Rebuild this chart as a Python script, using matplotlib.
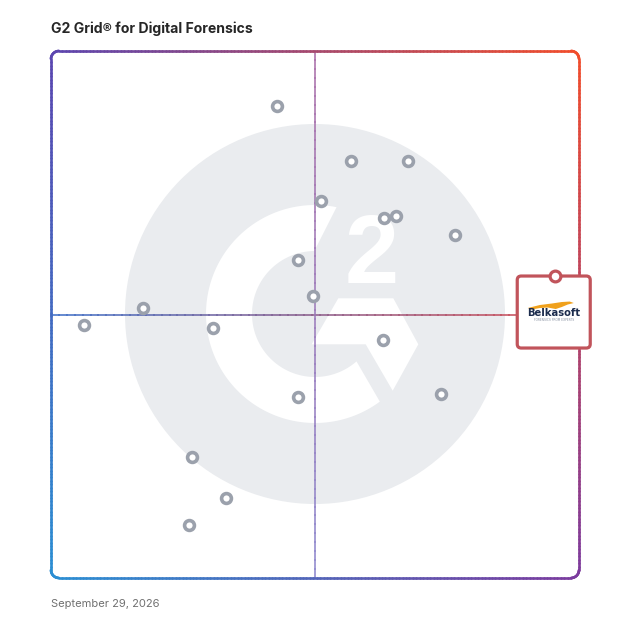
import numpy as np
import matplotlib
matplotlib.use("Agg")
import matplotlib.pyplot as plt
from matplotlib.collections import LineCollection
from matplotlib.patches import Polygon, FancyBboxPatch, Ellipse
from matplotlib.transforms import Affine2D
import matplotlib.colors as mcolors

# ---------------- data ----------------
title = "G2 Grid\u00ae for Digital Forensics"
date_label = "September 29, 2026"

# x: satisfaction, y: market presence (0-100 grid scale)
satisfaction = [42.8, 56.8, 67.6, 51.1, 63.1, 65.3, 76.5, 46.8, 49.6,
                17.4, 30.7, 62.9, 46.8, 73.9, 26.7, 33.1, 6.3, 26.1]
market_presence = [89.6, 79.1, 79.1, 71.5, 68.3, 68.7, 65.1, 60.3, 53.5,
                   51.2, 47.4, 45.2, 34.3, 34.9, 23.0, 15.2, 48.0, 10.1]
highlight_name = "Belkasoft"
highlight_sub = "FORENSICS FROM EXPERTS"
highlight_x = [95.5]
highlight_y = [57.3]

# ---------------- figure ----------------
W = 628
fig = plt.figure(figsize=(6.28, 6.28), dpi=100)
fig.patch.set_facecolor("white")
L, R, T, B = 51, 579, 51, 578
ax = fig.add_axes([L / W, 1 - B / W, (R - L) / W, (B - T) / W])
ax.set_xlim(0, 100)
ax.set_ylim(0, 100)
ax.axis("off")

# pixel transform (origin top-left, y down)
pixT = Affine2D().scale(1 / W, -1 / W).translate(0, 1) + fig.transFigure

# ---------------- background G2 logo ----------------
cx, cy = 315, 314
ax.add_patch(Ellipse((cx, cy), 380, 380, transform=pixT, facecolor="#eaecef",
                     edgecolor="none", zorder=0))

def arcpts(r, a0, a1, n=120):
    t = np.radians(np.linspace(a0, a1, n))
    return np.column_stack([cx + r * np.cos(t), cy - r * np.sin(t)])

ring = np.vstack([arcpts(109, 78.6, 306.5), arcpts(63, 311.2, 90.6)])
ax.add_patch(Polygon(ring, closed=True, transform=pixT, facecolor="white",
                     edgecolor="none", zorder=1))
chev = [(338.3, 298.3), (393.3, 298.3), (418.3, 344.3), (392.7, 390.7),
        (365.7, 344.3), (311.7, 344.3)]
ax.add_patch(Polygon(chev, closed=True, transform=pixT, facecolor="white",
                     edgecolor="none", zorder=1))
ax.text(372, 283, "2", transform=pixT, ha="center", va="baseline",
        fontsize=70, fontweight="bold", family="Liberation Sans",
        color="white", zorder=1)

# ---------------- gradient frame ----------------
corner = {
    "tl": np.array(mcolors.to_rgb("#5b46b0")),
    "tr": np.array(mcolors.to_rgb("#f24d2b")),
    "bl": np.array(mcolors.to_rgb("#2b8fd3")),
    "br": np.array(mcolors.to_rgb("#7c3b9e")),
}

def bilin(u, v):
    top = corner["tl"] * (1 - u) + corner["tr"] * u
    bot = corner["bl"] * (1 - u) + corner["br"] * u
    return bot * (1 - v) + top * v

rx, ry = 8 * 100 / (R - L), 8 * 100 / (B - T)
pts = []
def seg(p0, p1, n=150):
    for t in np.linspace(0, 1, n):
        pts.append((p0[0] + (p1[0] - p0[0]) * t, p0[1] + (p1[1] - p0[1]) * t))
def carc(c, a0, a1, n=20):
    for t in np.radians(np.linspace(a0, a1, n)):
        pts.append((c[0] + rx * np.cos(t), c[1] + ry * np.sin(t)))

seg((rx, 100), (100 - rx, 100))
carc((100 - rx, 100 - ry), 90, 0)
seg((100, 100 - ry), (100, ry))
carc((100 - rx, ry), 0, -90)
seg((100 - rx, 0), (rx, 0))
carc((rx, ry), 270, 180)
seg((0, ry), (0, 100 - ry))
carc((rx, 100 - ry), 180, 90)
pts = np.array(pts)
segs = np.stack([pts[:-1], pts[1:]], axis=1)
mids = segs.mean(axis=1) / 100.0
cols = [bilin(u, v) for u, v in mids]
ax.add_collection(LineCollection(segs, colors=cols, linewidths=1.9,
                                 capstyle="round", zorder=3, clip_on=False))

# ---------------- midlines ----------------
def grad_line(x0, y0, x1, y1, c0, c1, lw, n=60):
    xs = np.linspace(x0, x1, n)
    ys = np.linspace(y0, y1, n)
    p = np.column_stack([xs, ys])
    s = np.stack([p[:-1], p[1:]], axis=1)
    a, b = np.array(mcolors.to_rgb(c0)), np.array(mcolors.to_rgb(c1))
    t = np.linspace(0, 1, n - 1)
    cc = [a * (1 - k) + b * k for k in t]
    ax.add_collection(LineCollection(s, colors=cc, linewidths=lw, zorder=2,
                                     capstyle="projecting", clip_on=False))

box_left_x = highlight_x[0] - 38 * 100 / (R - L)
grad_line(0, 50, box_left_x, 50, "#3a6cc6", "#c44a58", 1.1)
grad_line(50, 100, 50, 0, "#a86aa6", "#8a84cc", 1.1)

# ---------------- points ----------------
ax.scatter(satisfaction, market_presence, s=50, facecolor="white",
           edgecolor="#9ba1ac", linewidths=2.6, zorder=5, clip_on=False)

# ---------------- highlighted product ----------------
hx = L + highlight_x[0] * (R - L) / 100
hy = B - highlight_y[0] * (B - T) / 100
bw, bh = 73, 72
bx0 = hx - 38
ax.add_patch(FancyBboxPatch((bx0 + 4, hy + 4), bw - 8, bh - 8,
                            boxstyle="round,pad=4", transform=pixT,
                            facecolor="white", edgecolor="#c1545b",
                            linewidth=2.3, zorder=6, clip_on=False))
ax.scatter(highlight_x, highlight_y, s=60, facecolor="white",
           edgecolor="#c1545b", linewidths=2.3, zorder=8, clip_on=False)

bcx = bx0 + bw / 2
# orange swoosh (leaping cat)
sw = [(bcx - 26, hy + 32), (bcx - 14, hy + 29), (bcx - 2, hy + 27.5),
      (bcx + 8, hy + 26), (bcx + 16, hy + 25.5), (bcx + 20, hy + 27),
      (bcx + 14, hy + 28.5), (bcx + 8, hy + 31), (bcx + 2, hy + 33),
      (bcx - 6, hy + 31.5), (bcx - 14, hy + 32), (bcx - 22, hy + 33.5)]
ax.add_patch(Polygon(sw, closed=True, transform=pixT, facecolor="#f0a11c",
                     edgecolor="none", zorder=7, clip_on=False))
ax.text(bcx, hy + 37, highlight_name, transform=pixT, ha="center",
        va="center", fontsize=7.2, fontweight="bold", color="#1c2c4d",
        family="DejaVu Sans", zorder=7, clip_on=False)
ax.text(bcx, hy + 44, highlight_sub, transform=pixT, ha="center",
        va="center", fontsize=2.2, color="#8a93a3", zorder=7, clip_on=False)

# ---------------- texts ----------------
fig.text(51 / W, 1 - 29 / W, title, fontsize=10.1, fontweight="bold",
         color="#262626", family="Inter", va="center", ha="left")
fig.text(51 / W, 1 - 604 / W, date_label, fontsize=8, color="#707070",
         family="Inter", va="center", ha="left")

fig.savefig("out.png", dpi=100, facecolor="white")
